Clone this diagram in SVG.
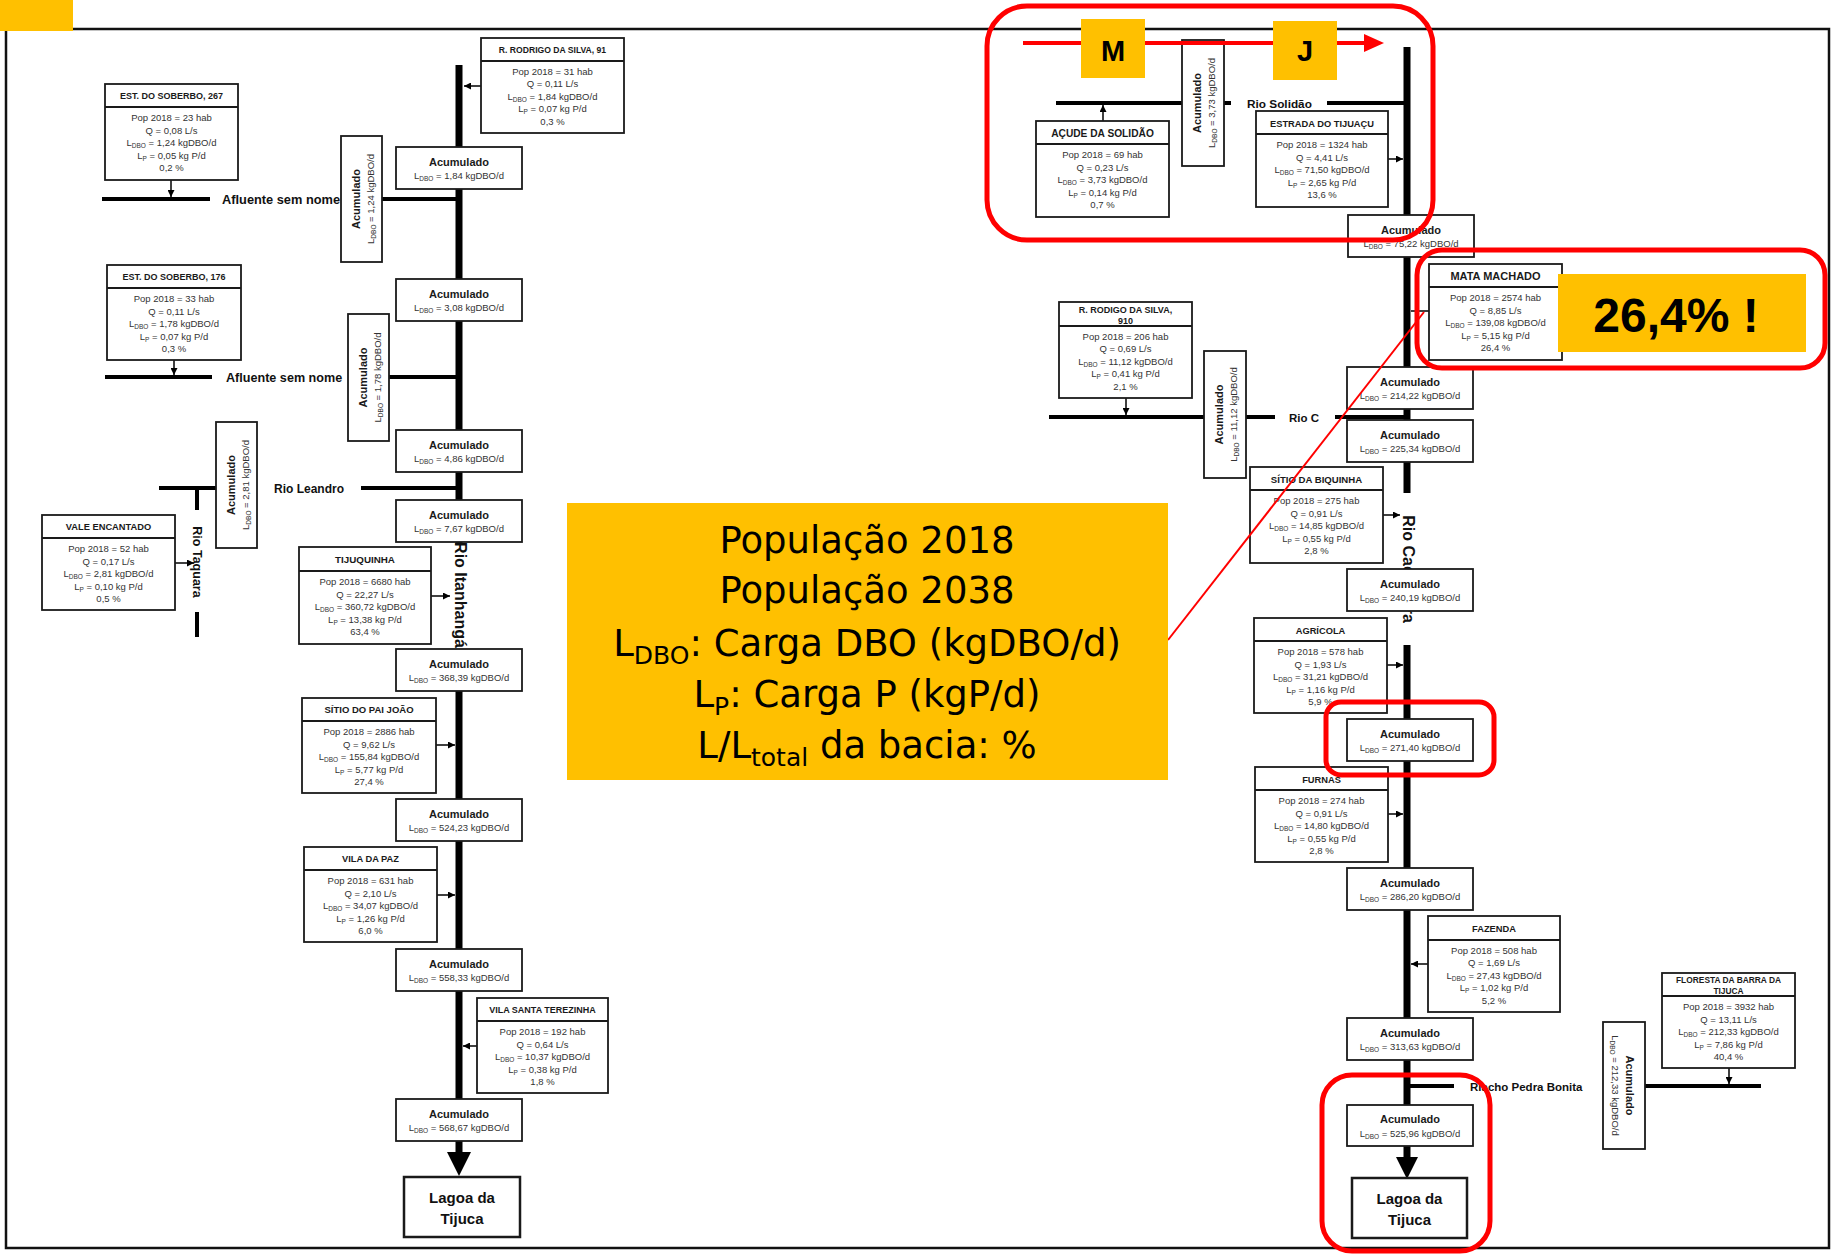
<svg xmlns="http://www.w3.org/2000/svg" width="1832" height="1256" viewBox="0 0 1832 1256">
<defs>
<marker id="ah" viewBox="0 0 10 10" refX="10" refY="5" markerWidth="7" markerHeight="7" markerUnits="userSpaceOnUse" orient="auto"><path d="M0,0 L10,5 L0,10 z" fill="#000"/></marker>
<style>
.box{fill:#fff;stroke:#1a1a1a;stroke-width:1.8}
.hdr{stroke:#1a1a1a;stroke-width:1.8}
.t{font-family:"Liberation Sans",Arial,sans-serif;font-weight:bold;font-size:9.3px;text-anchor:middle;fill:#1a1a1a}
.b{font-family:"Liberation Sans",Arial,sans-serif;font-size:9.5px;text-anchor:middle;fill:#333}
.s{font-size:6.5px}
.ah{font-family:"Liberation Sans",Arial,sans-serif;font-weight:bold;font-size:11px;text-anchor:middle;fill:#1a1a1a}
.lg{font-family:"Liberation Sans",Arial,sans-serif;font-weight:bold;font-size:15px;text-anchor:middle;fill:#111}
.main{stroke:#000;stroke-width:7;fill:none}
.trib{stroke:#000;stroke-width:4;fill:none}
.arr{stroke:#000;stroke-width:1.5;fill:none;marker-end:url(#ah)}
.lbl{font-family:"Liberation Sans",Arial,sans-serif;font-weight:bold;font-size:12.5px;fill:#111}
.rl{font-family:"Liberation Sans",Arial,sans-serif;font-weight:bold;font-size:16px;fill:#111;text-anchor:middle}
.red{fill:none;stroke:#ff0000;stroke-width:5}
.yel{fill:#FFC000}
.leg{font-family:"DejaVu Sans",Verdana,sans-serif;font-size:37px;text-anchor:middle;fill:#000}
.lsub{font-size:25px}
</style>
</defs>
<rect x="0" y="0" width="1832" height="1256" fill="#fff"/>
<rect x="6" y="29" width="1823" height="1219" fill="none" stroke="#111" stroke-width="2.5"/>
<rect x="0" y="0" width="73" height="31" class="yel"/>

<g id="connectors">
<line class="main" x1="459" y1="65" x2="459" y2="545"/>
<line class="main" x1="459" y1="649" x2="459" y2="1155"/>
<polygon points="447,1152 471,1152 459,1176" fill="#000"/>
<line class="main" x1="1407" y1="47" x2="1407" y2="493"/>
<line class="main" x1="1407" y1="645" x2="1407" y2="1160"/>
<polygon points="1396,1157 1418,1157 1407,1179" fill="#000"/>
<line class="trib" x1="102" y1="199" x2="210" y2="199"/>
<line class="trib" x1="382" y1="199" x2="459" y2="199"/>
<line class="trib" x1="105" y1="377" x2="212" y2="377"/>
<line class="trib" x1="389" y1="377" x2="459" y2="377"/>
<line class="trib" x1="159" y1="488" x2="216" y2="488"/>
<line class="trib" x1="361" y1="488" x2="459" y2="488"/>
<line class="trib" x1="197" y1="488" x2="197" y2="510"/>
<line class="trib" x1="197" y1="612" x2="197" y2="637"/>
<line class="trib" x1="1056" y1="103" x2="1182" y2="103"/>
<line class="trib" x1="1224" y1="103" x2="1231" y2="103"/>
<line class="trib" x1="1327" y1="103" x2="1407" y2="103"/>
<line class="trib" x1="1049" y1="417" x2="1204" y2="417"/>
<line class="trib" x1="1246" y1="417" x2="1275" y2="417"/>
<line class="trib" x1="1335" y1="417" x2="1407" y2="417"/>
<line class="trib" x1="1407" y1="1086" x2="1454" y2="1086"/>
<line class="trib" x1="1645" y1="1086" x2="1761" y2="1086"/>
<line class="arr" x1="481" y1="86" x2="464" y2="86"/>
<line class="arr" x1="171" y1="180" x2="171" y2="197"/>
<line class="arr" x1="174" y1="360" x2="174" y2="375"/>
<line class="arr" x1="175" y1="563" x2="194" y2="563"/>
<line class="arr" x1="431" y1="596" x2="450" y2="596"/>
<line class="arr" x1="436" y1="745" x2="455" y2="745"/>
<line class="arr" x1="437" y1="895" x2="455" y2="895"/>
<line class="arr" x1="477" y1="1046" x2="463" y2="1046"/>
<line class="arr" x1="1103" y1="121" x2="1103" y2="105"/>
<line class="arr" x1="1388" y1="159" x2="1403" y2="159"/>
<line x1="1429" y1="311" x2="1411" y2="311" stroke="#000" stroke-width="1.5"/>
<line class="arr" x1="1126" y1="398" x2="1126" y2="415"/>
<line class="arr" x1="1383" y1="515" x2="1400" y2="515"/>
<line class="arr" x1="1387" y1="665" x2="1403" y2="665"/>
<line class="arr" x1="1388" y1="814" x2="1403" y2="814"/>
<line class="arr" x1="1428" y1="964" x2="1411" y2="964"/>
<line class="arr" x1="1729" y1="1068" x2="1729" y2="1084"/>
</g>

<g id="river-labels">
<text class="lbl" x="222" y="203.5" style="font-size:12.8px">Afluente sem nome</text>
<text class="lbl" x="226" y="381.5" style="font-size:12.6px">Afluente sem nome</text>
<text class="lbl" x="274" y="492.5" style="font-size:12px">Rio Leandro</text>
<text class="lbl" x="1247" y="108" style="font-size:11.8px">Rio Solidão</text>
<text class="lbl" x="1289" y="421.5" style="font-size:11.5px">Rio C</text>
<text class="lbl" x="1470" y="1090.5" style="font-size:11.5px">Riacho Pedra Bonita</text>
<text class="rl" transform="translate(197,562) rotate(90)" x="0" y="4.5" style="font-size:12.5px">Rio Taquara</text>
<text class="rl" transform="translate(460,595) rotate(90)" x="0" y="5.5">Rio Itanhangá</text>
<text class="rl" transform="translate(1408,569) rotate(90)" x="0" y="5.5">Rio Cachoeira</text>
</g>

<g id="n-rodrigo91" transform="translate(481,38)">
<rect class="box" width="143" height="95"/><line class="hdr" x1="0" y1="23" x2="143" y2="23"/>
<text class="t" x="71.5" y="15" style="font-size:8.6px">R. RODRIGO DA SILVA, 91</text>
<text class="b" x="71.5" y="36.5">Pop 2018 = 31 hab</text>
<text class="b" x="71.5" y="49">Q = 0,11 L/s</text>
<text class="b" x="71.5" y="61.5">L<tspan class="s" dy="2">DBO</tspan><tspan dy="-2"> = 1,84 kgDBO/d</tspan></text>
<text class="b" x="71.5" y="74">L<tspan class="s" dy="2">P</tspan><tspan dy="-2"> = 0,07 kg P/d</tspan></text>
<text class="b" x="71.5" y="86.5">0,3 %</text>
</g>

<g id="n-soberbo267" transform="translate(105,84)">
<rect class="box" width="133" height="96"/><line class="hdr" x1="0" y1="23" x2="133" y2="23"/>
<text class="t" x="66.5" y="15" style="font-size:9px">EST. DO SOBERBO, 267</text>
<text class="b" x="66.5" y="37">Pop 2018 = 23 hab</text>
<text class="b" x="66.5" y="49.5">Q = 0,08 L/s</text>
<text class="b" x="66.5" y="62">L<tspan class="s" dy="2">DBO</tspan><tspan dy="-2"> = 1,24 kgDBO/d</tspan></text>
<text class="b" x="66.5" y="74.5">L<tspan class="s" dy="2">P</tspan><tspan dy="-2"> = 0,05 kg P/d</tspan></text>
<text class="b" x="66.5" y="87">0,2 %</text>
</g>

<g id="n-soberbo176" transform="translate(107,265)">
<rect class="box" width="134" height="95"/><line class="hdr" x1="0" y1="23" x2="134" y2="23"/>
<text class="t" x="67" y="15" style="font-size:9px">EST. DO SOBERBO, 176</text>
<text class="b" x="67" y="37">Pop 2018 = 33 hab</text>
<text class="b" x="67" y="49.5">Q = 0,11 L/s</text>
<text class="b" x="67" y="62">L<tspan class="s" dy="2">DBO</tspan><tspan dy="-2"> = 1,78 kgDBO/d</tspan></text>
<text class="b" x="67" y="74.5">L<tspan class="s" dy="2">P</tspan><tspan dy="-2"> = 0,07 kg P/d</tspan></text>
<text class="b" x="67" y="87">0,3 %</text>
</g>

<g id="n-vale" transform="translate(42,515)">
<rect class="box" width="133" height="95"/><line class="hdr" x1="0" y1="23" x2="133" y2="23"/>
<text class="t" x="66.5" y="15">VALE ENCANTADO</text>
<text class="b" x="66.5" y="37">Pop 2018 = 52 hab</text>
<text class="b" x="66.5" y="49.5">Q = 0,17 L/s</text>
<text class="b" x="66.5" y="62">L<tspan class="s" dy="2">DBO</tspan><tspan dy="-2"> = 2,81 kgDBO/d</tspan></text>
<text class="b" x="66.5" y="74.5">L<tspan class="s" dy="2">P</tspan><tspan dy="-2"> = 0,10 kg P/d</tspan></text>
<text class="b" x="66.5" y="87">0,5 %</text>
</g>

<g id="n-tijuquinha" transform="translate(299,547)">
<rect class="box" width="132" height="97"/><line class="hdr" x1="0" y1="24" x2="132" y2="24"/>
<text class="t" x="66" y="15.5" style="font-size:9.8px">TIJUQUINHA</text>
<text class="b" x="66" y="38">Pop 2018 = 6680 hab</text>
<text class="b" x="66" y="50.5">Q = 22,27 L/s</text>
<text class="b" x="66" y="63">L<tspan class="s" dy="2">DBO</tspan><tspan dy="-2"> = 360,72 kgDBO/d</tspan></text>
<text class="b" x="66" y="75.5">L<tspan class="s" dy="2">P</tspan><tspan dy="-2"> = 13,38 kg P/d</tspan></text>
<text class="b" x="66" y="88">63,4 %</text>
</g>

<g id="n-paijoao" transform="translate(302,698)">
<rect class="box" width="134" height="95"/><line class="hdr" x1="0" y1="23" x2="134" y2="23"/>
<text class="t" x="67" y="15" style="font-size:9.5px">SÍTIO DO PAI JOÃO</text>
<text class="b" x="67" y="37">Pop 2018 = 2886 hab</text>
<text class="b" x="67" y="49.5">Q = 9,62 L/s</text>
<text class="b" x="67" y="62">L<tspan class="s" dy="2">DBO</tspan><tspan dy="-2"> = 155,84 kgDBO/d</tspan></text>
<text class="b" x="67" y="74.5">L<tspan class="s" dy="2">P</tspan><tspan dy="-2"> = 5,77 kg P/d</tspan></text>
<text class="b" x="67" y="87">27,4 %</text>
</g>

<g id="n-viladapaz" transform="translate(304,847)">
<rect class="box" width="133" height="95"/><line class="hdr" x1="0" y1="23" x2="133" y2="23"/>
<text class="t" x="66.5" y="15">VILA DA PAZ</text>
<text class="b" x="66.5" y="37">Pop 2018 = 631 hab</text>
<text class="b" x="66.5" y="49.5">Q = 2,10 L/s</text>
<text class="b" x="66.5" y="62">L<tspan class="s" dy="2">DBO</tspan><tspan dy="-2"> = 34,07 kgDBO/d</tspan></text>
<text class="b" x="66.5" y="74.5">L<tspan class="s" dy="2">P</tspan><tspan dy="-2"> = 1,26 kg P/d</tspan></text>
<text class="b" x="66.5" y="87">6,0 %</text>
</g>

<g id="n-santaterezinha" transform="translate(477,998)">
<rect class="box" width="131" height="95"/><line class="hdr" x1="0" y1="23" x2="131" y2="23"/>
<text class="t" x="65.5" y="15" style="font-size:9px">VILA SANTA TEREZINHA</text>
<text class="b" x="65.5" y="37">Pop 2018 = 192 hab</text>
<text class="b" x="65.5" y="49.5">Q = 0,64 L/s</text>
<text class="b" x="65.5" y="62">L<tspan class="s" dy="2">DBO</tspan><tspan dy="-2"> = 10,37 kgDBO/d</tspan></text>
<text class="b" x="65.5" y="74.5">L<tspan class="s" dy="2">P</tspan><tspan dy="-2"> = 0,38 kg P/d</tspan></text>
<text class="b" x="65.5" y="87">1,8 %</text>
</g>

<g id="acum-l1" transform="translate(396,147)"><rect class="box" width="126" height="42"/><text class="ah" x="63" y="18.5">Acumulado</text><text class="b" x="63" y="32">L<tspan class="s" dy="2">DBO</tspan><tspan dy="-2"> = 1,84 kgDBO/d</tspan></text></g>
<g id="acum-l2" transform="translate(396,279)"><rect class="box" width="126" height="42"/><text class="ah" x="63" y="18.5">Acumulado</text><text class="b" x="63" y="32">L<tspan class="s" dy="2">DBO</tspan><tspan dy="-2"> = 3,08 kgDBO/d</tspan></text></g>
<g id="acum-l3" transform="translate(396,430)"><rect class="box" width="126" height="42"/><text class="ah" x="63" y="18.5">Acumulado</text><text class="b" x="63" y="32">L<tspan class="s" dy="2">DBO</tspan><tspan dy="-2"> = 4,86 kgDBO/d</tspan></text></g>
<g id="acum-l4" transform="translate(396,500)"><rect class="box" width="126" height="42"/><text class="ah" x="63" y="18.5">Acumulado</text><text class="b" x="63" y="32">L<tspan class="s" dy="2">DBO</tspan><tspan dy="-2"> = 7,67 kgDBO/d</tspan></text></g>
<g id="acum-l5" transform="translate(396,649)"><rect class="box" width="126" height="42"/><text class="ah" x="63" y="18.5">Acumulado</text><text class="b" x="63" y="32">L<tspan class="s" dy="2">DBO</tspan><tspan dy="-2"> = 368,39 kgDBO/d</tspan></text></g>
<g id="acum-l6" transform="translate(396,799)"><rect class="box" width="126" height="42"/><text class="ah" x="63" y="18.5">Acumulado</text><text class="b" x="63" y="32">L<tspan class="s" dy="2">DBO</tspan><tspan dy="-2"> = 524,23 kgDBO/d</tspan></text></g>
<g id="acum-l7" transform="translate(396,949)"><rect class="box" width="126" height="42"/><text class="ah" x="63" y="18.5">Acumulado</text><text class="b" x="63" y="32">L<tspan class="s" dy="2">DBO</tspan><tspan dy="-2"> = 558,33 kgDBO/d</tspan></text></g>
<g id="acum-l8" transform="translate(396,1099)"><rect class="box" width="126" height="42"/><text class="ah" x="63" y="18.5">Acumulado</text><text class="b" x="63" y="32">L<tspan class="s" dy="2">DBO</tspan><tspan dy="-2"> = 568,67 kgDBO/d</tspan></text></g>

<g id="vacum-l1" transform="translate(341,136)"><rect class="box" width="41" height="126"/><g transform="translate(20.5,63) rotate(-90)"><text class="ah" x="0" y="-2">Acumulado</text><text class="b" x="0" y="12">L<tspan class="s" dy="2">DBO</tspan><tspan dy="-2"> = 1,24 kgDBO/d</tspan></text></g></g>
<g id="vacum-l2" transform="translate(348,314)"><rect class="box" width="41" height="127"/><g transform="translate(20.5,63.5) rotate(-90)"><text class="ah" x="0" y="-2">Acumulado</text><text class="b" x="0" y="12">L<tspan class="s" dy="2">DBO</tspan><tspan dy="-2"> = 1,78 kgDBO/d</tspan></text></g></g>
<g id="vacum-l3" transform="translate(216,422)"><rect class="box" width="41" height="126"/><g transform="translate(20.5,63) rotate(-90)"><text class="ah" x="0" y="-2">Acumulado</text><text class="b" x="0" y="12">L<tspan class="s" dy="2">DBO</tspan><tspan dy="-2"> = 2,81 kgDBO/d</tspan></text></g></g>

<g id="lagoa-l" transform="translate(404,1177)"><rect class="box" width="116" height="60" style="stroke-width:2.5"/><text class="lg" x="58" y="26">Lagoa da</text><text class="lg" x="58" y="47">Tijuca</text></g>

<g id="n-acude" transform="translate(1036,121)">
<rect class="box" width="133" height="96"/><line class="hdr" x1="0" y1="23" x2="133" y2="23"/>
<text class="t" x="66.5" y="15.5" style="font-size:10.2px">AÇUDE DA SOLIDÃO</text>
<text class="b" x="66.5" y="37">Pop 2018 = 69 hab</text>
<text class="b" x="66.5" y="49.5">Q = 0,23 L/s</text>
<text class="b" x="66.5" y="62">L<tspan class="s" dy="2">DBO</tspan><tspan dy="-2"> = 3,73 kgDBO/d</tspan></text>
<text class="b" x="66.5" y="74.5">L<tspan class="s" dy="2">P</tspan><tspan dy="-2"> = 0,14 kg P/d</tspan></text>
<text class="b" x="66.5" y="87">0,7 %</text>
</g>

<g id="n-estrada" transform="translate(1256,111)">
<rect class="box" width="132" height="96"/><line class="hdr" x1="0" y1="23" x2="132" y2="23"/>
<text class="t" x="66" y="15.5">ESTRADA DO TIJUAÇU</text>
<text class="b" x="66" y="37">Pop 2018 = 1324 hab</text>
<text class="b" x="66" y="49.5">Q = 4,41 L/s</text>
<text class="b" x="66" y="62">L<tspan class="s" dy="2">DBO</tspan><tspan dy="-2"> = 71,50 kgDBO/d</tspan></text>
<text class="b" x="66" y="74.5">L<tspan class="s" dy="2">P</tspan><tspan dy="-2"> = 2,65 kg P/d</tspan></text>
<text class="b" x="66" y="87">13,6 %</text>
</g>

<g id="n-mata" transform="translate(1429,264)">
<rect class="box" width="133" height="96"/><line class="hdr" x1="0" y1="23" x2="133" y2="23"/>
<text class="t" x="66.5" y="15.5" style="font-size:11px">MATA MACHADO</text>
<text class="b" x="66.5" y="37">Pop 2018 = 2574 hab</text>
<text class="b" x="66.5" y="49.5">Q = 8,85 L/s</text>
<text class="b" x="66.5" y="62">L<tspan class="s" dy="2">DBO</tspan><tspan dy="-2"> = 139,08 kgDBO/d</tspan></text>
<text class="b" x="66.5" y="74.5">L<tspan class="s" dy="2">P</tspan><tspan dy="-2"> = 5,15 kg P/d</tspan></text>
<text class="b" x="66.5" y="87">26,4 %</text>
</g>

<g id="n-rodigo910" transform="translate(1059,302)">
<rect class="box" width="133" height="96"/><line class="hdr" x1="0" y1="24" x2="133" y2="24"/>
<text class="t" x="66.5" y="10.5" style="font-size:9px">R. RODIGO DA SILVA,</text>
<text class="t" x="66.5" y="22" style="font-size:9px">910</text>
<text class="b" x="66.5" y="37.5">Pop 2018 = 206 hab</text>
<text class="b" x="66.5" y="50">Q = 0,69 L/s</text>
<text class="b" x="66.5" y="62.5">L<tspan class="s" dy="2">DBO</tspan><tspan dy="-2"> = 11,12 kgDBO/d</tspan></text>
<text class="b" x="66.5" y="75">L<tspan class="s" dy="2">P</tspan><tspan dy="-2"> = 0,41 kg P/d</tspan></text>
<text class="b" x="66.5" y="87.5">2,1 %</text>
</g>

<g id="n-biquinha" transform="translate(1250,467)">
<rect class="box" width="133" height="96"/><line class="hdr" x1="0" y1="23" x2="133" y2="23"/>
<text class="t" x="66.5" y="15.5" style="font-size:9.6px">SÍTIO DA BIQUINHA</text>
<text class="b" x="66.5" y="37">Pop 2018 = 275 hab</text>
<text class="b" x="66.5" y="49.5">Q = 0,91 L/s</text>
<text class="b" x="66.5" y="62">L<tspan class="s" dy="2">DBO</tspan><tspan dy="-2"> = 14,85 kgDBO/d</tspan></text>
<text class="b" x="66.5" y="74.5">L<tspan class="s" dy="2">P</tspan><tspan dy="-2"> = 0,55 kg P/d</tspan></text>
<text class="b" x="66.5" y="87">2,8 %</text>
</g>

<g id="n-agricola" transform="translate(1254,618)">
<rect class="box" width="133" height="95"/><line class="hdr" x1="0" y1="23" x2="133" y2="23"/>
<text class="t" x="66.5" y="15.5">AGRÍCOLA</text>
<text class="b" x="66.5" y="37">Pop 2018 = 578 hab</text>
<text class="b" x="66.5" y="49.5">Q = 1,93 L/s</text>
<text class="b" x="66.5" y="62">L<tspan class="s" dy="2">DBO</tspan><tspan dy="-2"> = 31,21 kgDBO/d</tspan></text>
<text class="b" x="66.5" y="74.5">L<tspan class="s" dy="2">P</tspan><tspan dy="-2"> = 1,16 kg P/d</tspan></text>
<text class="b" x="66.5" y="87">5,9 %</text>
</g>

<g id="n-furnas" transform="translate(1255,767)">
<rect class="box" width="133" height="95"/><line class="hdr" x1="0" y1="23" x2="133" y2="23"/>
<text class="t" x="66.5" y="15.5">FURNAS</text>
<text class="b" x="66.5" y="37">Pop 2018 = 274 hab</text>
<text class="b" x="66.5" y="49.5">Q = 0,91 L/s</text>
<text class="b" x="66.5" y="62">L<tspan class="s" dy="2">DBO</tspan><tspan dy="-2"> = 14,80 kgDBO/d</tspan></text>
<text class="b" x="66.5" y="74.5">L<tspan class="s" dy="2">P</tspan><tspan dy="-2"> = 0,55 kg P/d</tspan></text>
<text class="b" x="66.5" y="87">2,8 %</text>
</g>

<g id="n-fazenda" transform="translate(1428,916)">
<rect class="box" width="132" height="96"/><line class="hdr" x1="0" y1="24" x2="132" y2="24"/>
<text class="t" x="66" y="16">FAZENDA</text>
<text class="b" x="66" y="37.5">Pop 2018 = 508 hab</text>
<text class="b" x="66" y="50">Q = 1,69 L/s</text>
<text class="b" x="66" y="62.5">L<tspan class="s" dy="2">DBO</tspan><tspan dy="-2"> = 27,43 kgDBO/d</tspan></text>
<text class="b" x="66" y="75">L<tspan class="s" dy="2">P</tspan><tspan dy="-2"> = 1,02 kg P/d</tspan></text>
<text class="b" x="66" y="87.5">5,2 %</text>
</g>

<g id="n-floresta" transform="translate(1662,973)">
<rect class="box" width="133" height="95"/><line class="hdr" x1="0" y1="23" x2="133" y2="23"/>
<text class="t" x="66.5" y="10" style="font-size:8.4px">FLORESTA DA BARRA DA</text>
<text class="t" x="66.5" y="21" style="font-size:8.4px">TIJUCA</text>
<text class="b" x="66.5" y="37">Pop 2018 = 3932 hab</text>
<text class="b" x="66.5" y="49.5">Q = 13,11 L/s</text>
<text class="b" x="66.5" y="62">L<tspan class="s" dy="2">DBO</tspan><tspan dy="-2"> = 212,33 kgDBO/d</tspan></text>
<text class="b" x="66.5" y="74.5">L<tspan class="s" dy="2">P</tspan><tspan dy="-2"> = 7,86 kg P/d</tspan></text>
<text class="b" x="66.5" y="87">40,4 %</text>
</g>

<g id="acum-r1" transform="translate(1348,215)"><rect class="box" width="126" height="42"/><text class="ah" x="63" y="18.5">Acumulado</text><text class="b" x="63" y="32">L<tspan class="s" dy="2">DBO</tspan><tspan dy="-2"> = 75,22 kgDBO/d</tspan></text></g>
<g id="acum-r2" transform="translate(1347,367)"><rect class="box" width="126" height="42"/><text class="ah" x="63" y="18.5">Acumulado</text><text class="b" x="63" y="32">L<tspan class="s" dy="2">DBO</tspan><tspan dy="-2"> = 214,22 kgDBO/d</tspan></text></g>
<g id="acum-r3" transform="translate(1347,420)"><rect class="box" width="126" height="42"/><text class="ah" x="63" y="18.5">Acumulado</text><text class="b" x="63" y="32">L<tspan class="s" dy="2">DBO</tspan><tspan dy="-2"> = 225,34 kgDBO/d</tspan></text></g>
<g id="acum-r4" transform="translate(1347,569)"><rect class="box" width="126" height="42"/><text class="ah" x="63" y="18.5">Acumulado</text><text class="b" x="63" y="32">L<tspan class="s" dy="2">DBO</tspan><tspan dy="-2"> = 240,19 kgDBO/d</tspan></text></g>
<g id="acum-r5" transform="translate(1347,719)"><rect class="box" width="126" height="42"/><text class="ah" x="63" y="18.5">Acumulado</text><text class="b" x="63" y="32">L<tspan class="s" dy="2">DBO</tspan><tspan dy="-2"> = 271,40 kgDBO/d</tspan></text></g>
<g id="acum-r6" transform="translate(1347,868)"><rect class="box" width="126" height="42"/><text class="ah" x="63" y="18.5">Acumulado</text><text class="b" x="63" y="32">L<tspan class="s" dy="2">DBO</tspan><tspan dy="-2"> = 286,20 kgDBO/d</tspan></text></g>
<g id="acum-r7" transform="translate(1347,1018)"><rect class="box" width="126" height="42"/><text class="ah" x="63" y="18.5">Acumulado</text><text class="b" x="63" y="32">L<tspan class="s" dy="2">DBO</tspan><tspan dy="-2"> = 313,63 kgDBO/d</tspan></text></g>
<g id="acum-r8" transform="translate(1347,1105)"><rect class="box" width="126" height="41"/><text class="ah" x="63" y="18">Acumulado</text><text class="b" x="63" y="31.5">L<tspan class="s" dy="2">DBO</tspan><tspan dy="-2"> = 525,96 kgDBO/d</tspan></text></g>

<g id="vacum-r1" transform="translate(1182,40)"><rect class="box" width="42" height="126"/><g transform="translate(21,63) rotate(-90)"><text class="ah" x="0" y="-2">Acumulado</text><text class="b" x="0" y="12">L<tspan class="s" dy="2">DBO</tspan><tspan dy="-2"> = 3,73 kgDBO/d</tspan></text></g></g>
<g id="vacum-r2" transform="translate(1204,351)"><rect class="box" width="42" height="127"/><g transform="translate(21,63.5) rotate(-90)"><text class="ah" x="0" y="-2">Acumulado</text><text class="b" x="0" y="12">L<tspan class="s" dy="2">DBO</tspan><tspan dy="-2"> = 11,12 kgDBO/d</tspan></text></g></g>
<g id="vacum-r3" transform="translate(1603,1022)"><rect class="box" width="42" height="127"/><g transform="translate(21,63.5) rotate(90)"><text class="ah" x="0" y="-2">Acumulado</text><text class="b" x="0" y="12">L<tspan class="s" dy="2">DBO</tspan><tspan dy="-2"> = 212,33 kgDBO/d</tspan></text></g></g>

<g id="lagoa-r" transform="translate(1352,1178)"><rect class="box" width="115" height="60" style="stroke-width:2.5"/><text class="lg" x="57.5" y="26">Lagoa da</text><text class="lg" x="57.5" y="47">Tijuca</text></g>

<g id="annotations">
<rect class="red" x="987" y="6" width="446" height="234" rx="40"/>
<line x1="1023" y1="43" x2="1368" y2="43" stroke="#ff0000" stroke-width="4"/>
<polygon points="1364,34 1384,43 1364,52" fill="#ff0000"/>
<rect class="yel" x="1081" y="19" width="64" height="59"/>
<text x="1113" y="61" font-family="Liberation Sans, Arial, sans-serif" font-weight="bold" font-size="29" text-anchor="middle">M</text>
<rect class="yel" x="1273" y="21" width="64" height="59"/>
<text x="1305" y="61" font-family="Liberation Sans, Arial, sans-serif" font-weight="bold" font-size="29" text-anchor="middle">J</text>
<rect class="red" x="1417" y="250" width="408" height="118" rx="25"/>
<rect class="yel" x="1558" y="274" width="248" height="78"/>
<text x="1676" y="332" font-family="Liberation Sans, Arial, sans-serif" font-weight="bold" font-size="48" text-anchor="middle">26,4% !</text>
<rect class="red" x="1326" y="702" width="168" height="73" rx="15"/>
<rect class="red" x="1322" y="1075" width="168" height="176" rx="30"/>
<line x1="1424" y1="312" x2="1168" y2="640" stroke="#ff0000" stroke-width="2"/>
<rect class="yel" x="567" y="503" width="601" height="277"/>
<text class="leg" x="867" y="553">População 2018</text>
<text class="leg" x="867" y="603">População 2038</text>
<text class="leg" x="867" y="656">L<tspan class="lsub" dy="8">DBO</tspan><tspan dy="-8">: Carga DBO (kgDBO/d)</tspan></text>
<text class="leg" x="867" y="707">L<tspan class="lsub" dy="8">P</tspan><tspan dy="-8">: Carga P (kgP/d)</tspan></text>
<text class="leg" x="867" y="758">L/L<tspan class="lsub" dy="8">total</tspan><tspan dy="-8"> da bacia: %</tspan></text>
</g>
</svg>
